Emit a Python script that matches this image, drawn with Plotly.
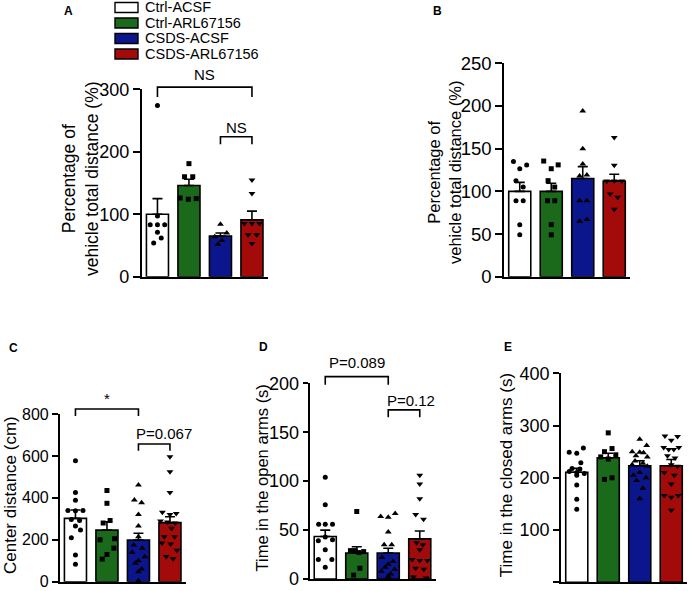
import plotly.graph_objects as go

W, H = 690, 591
FONT = "Liberation Sans, Arial, Helvetica, sans-serif"

groups = ["Ctrl-ACSF", "Ctrl-ARL67156", "CSDS-ACSF", "CSDS-ARL67156"]
colors = ["#ffffff", "#1b6a1b", "#0c168c", "#a30a0a"]
symbols = ["circle", "square", "triangle-up", "triangle-down"]

# ---------------- Panel A ----------------
A_mean = [100, 146, 65, 91]
A_sem = [25, 10, 5, 14]
A_pts = [[274, 97, 83, 83, 83, 71, 62, 54],
         [181, 160, 160, 126, 124, 125],
         [84, 70, 64, 58, 52],
         [155, 133, 85, 85, 85, 67, 67, 53]]
A_off = [[0, 0, -0.23, 0, 0.23, 0, 0.12, -0.12],
         [0, -0.14, 0.12, -0.28, -0.02, 0.23],
         [0, 0.2, -0.18, 0.05, -0.08],
         [0, 0, -0.24, 0, 0.24, -0.12, 0.15, 0]]

# ---------------- Panel B ----------------
B_mean = [100, 100, 115, 112]
B_sem = [10.5, 9.5, 14, 8]
B_pts = [[135, 126.5, 131, 112.5, 105, 89, 89, 61, 49],
         [135.5, 126.5, 131, 112.5, 105, 89, 89, 61, 49],
         [194, 150, 132, 118, 119, 89, 89, 65, 67],
         [163, 130.5, 112, 112, 112, 97, 93, 79]]
B_off = [[-0.2, 0, 0.22, -0.12, 0.11, -0.12, 0.11, 0, 0],
         [-0.24, 0, 0.22, -0.1, 0.11, -0.12, 0.11, 0, 0],
         [0, 0, 0, -0.1, 0.13, -0.1, 0.13, -0.1, 0.13],
         [0, 0, -0.24, 0, 0.24, -0.13, 0.11, 0]]

# ---------------- Panel C ----------------
C_mean = [302, 246, 199, 282]
C_sem = [40, 40, 32, 28]
C_pts = [[577, 426, 388, 340, 338, 340, 297, 292, 266, 247, 210, 127, 83],
         [435, 374, 292, 280, 205, 200, 160, 130, 108],
         [461, 390, 377, 321, 266, 215, 175, 160, 140, 119, 100, 88, 60, 48, 5],
         [596, 525, 425, 331, 325, 320, 290, 285, 280, 255, 215, 215, 185, 180, 150, 120, 110]]
C_off = [[0, 0, 0, -0.24, 0, 0.24, -0.13, 0.13, 0, 0.16, -0.13, 0, 0],
         [0, 0, 0.1, -0.12, 0.24, -0.22, 0.22, 0.0, -0.15],
         [0, -0.13, 0.1, 0, 0, 0, -0.15, 0.12, -0.2, 0.2, 0, -0.1, 0.1, 0, 0],
         [0, 0, 0, -0.24, 0.2, 0.0, -0.3, -0.08, 0.17, 0.05, -0.18, 0.15, -0.25, 0.02, 0.22, -0.12, 0.1]]

# ---------------- Panel D ----------------
D_mean = [43.5, 26.5, 26.5, 41]
D_sem = [6.5, 6.5, 5, 8]
D_pts = [[104, 76, 56, 56, 56, 43, 39, 40, 30, 20, 20, 12],
         [69, 29, 29, 28, 27, 11, 4],
         [64, 63, 67, 48, 35, 35, 22, 18, 15, 12, 10, 8, 5, 3, 1],
         [106, 97, 82, 66, 61, 37, 35, 30, 20, 19, 19, 11, 10, 2, 1]]
D_off = [[0, 0, -0.21, 0, 0.23, 0, -0.22, 0.23, 0, -0.22, 0.21, 0],
         [0, -0.2, -0.05, 0.22, 0.07, 0.1, -0.1],
         [-0.24, 0, 0.22, 0, -0.13, 0.11, -0.2, 0.15, 0, -0.1, 0.2, -0.22, 0.08, 0.0, 0],
         [0, 0, 0, -0.13, 0.12, -0.1, 0.1, 0, -0.24, 0, 0.24, -0.13, 0.13, -0.2, 0.2]]

# ---------------- Panel E ----------------
E_mean = [210.5, 238.5, 223, 223]
E_sem = [7.5, 8.5, 9.5, 12]
E_pts = [[257, 249, 247, 229, 218, 217, 212, 210, 208, 205, 186, 159, 140],
         [286, 256, 250, 244, 240, 236, 200, 197],
         [274, 262, 250, 249, 248, 242, 240, 232, 228, 225, 222, 210, 205, 200, 195, 180, 160],
         [280, 272, 279, 258, 254, 254, 258, 242, 238, 225, 222, 210, 205, 188, 166, 163, 166, 138]]
E_off = [[0.21, -0.24, 0, 0.13, -0.15, 0.1, -0.24, 0, 0.24, 0, 0, 0, 0],
         [0, 0.12, -0.12, 0.24, -0.24, 0.0, 0.12, -0.12],
         [0, 0.22, -0.24, 0, 0.12, -0.12, 0.24, -0.15, 0.1, -0.24, 0.24, 0, -0.2, 0.2, -0.1, 0.1, 0],
         [-0.2, 0, 0.2, -0.24, -0.08, 0.08, 0.24, -0.12, 0.12, 0, 0.2, -0.22, 0.1, 0, -0.22, 0, 0.22, 0]]

y_titles = {
    "A": "Percentage of<br>vehicle total distance (%)",
    "B": "Percentage of<br>vehicle total distance (%)",
    "C": "Center distance (cm)",
    "D": "Time in the open arms (s)",
    "E": "Time in the closed arms (s)",
}
y_max = {"A": 300, "B": 250, "C": 800, "D": 200, "E": 400}
y_dtick = {"A": 100, "B": 50, "C": 200, "D": 50, "E": 100}

# layout geometry (pixels): x0, x1, ytop, ybottom
geom = {
    "A": (141.7, 267.7, 89.3, 276.7),
    "B": (504.0, 630.0, 63.3, 276.7),
    "C": (59.7, 185.7, 414.0, 581.7),
    "D": (309.5, 435.5, 383.3, 579.0),
    "E": (561.0, 687.0, 373.3, 582.3),
}
tick_font = {"A": 18, "B": 18.5, "C": 16, "D": 18, "E": 18}
tick_len = {"A": 7, "B": 7, "C": 6, "D": 5, "E": 6}
title_font = {"A": 17.5, "B": 16.5, "C": 17, "D": 16.5, "E": 17}
title_pos = {"A": (80, 179), "B": (444, 172), "C": (10, 495), "D": (261.5, 478), "E": (506.7, 475.5)}
letter_pos = {"A": (68, 11), "B": (437, 11), "C": (14, 348), "D": (263, 347), "E": (508, 347)}

# significance brackets: (panel, i, j, y_line, y_end, label, label_x, label_y)
brackets = [
    ("A", 0, 3, 303.5, 287.6, "NS", 1.5, 324),
    ("A", 2, 3, 224, 212, "NS", 2.5, 239),
    ("C", 0, 2, 824, 790, "*", 1.0, 872),
    ("C", 2, 3, 657, 625, "P=0.067", 2.81, 705),
    ("D", 0, 2, 206.8, 198.4, "P=0.089", 1.0, 221.6),
    ("D", 2, 3, 172.8, 165.3, "P=0.12", 2.72, 182.3),
]

data = {
    "A": (A_mean, A_sem, A_pts, A_off),
    "B": (B_mean, B_sem, B_pts, B_off),
    "C": (C_mean, C_sem, C_pts, C_off),
    "D": (D_mean, D_sem, D_pts, D_off),
    "E": (E_mean, E_sem, E_pts, E_off),
}

XR = (-0.5, 3.5)


def px_x(p, xv):
    x0, x1, _, _ = geom[p]
    return x0 + (xv - XR[0]) / (XR[1] - XR[0]) * (x1 - x0)


def px_y(p, yv):
    _, _, yt, yb = geom[p]
    return yb - yv / y_max[p] * (yb - yt)


fig = go.Figure()
layout = dict(width=W, height=H, margin=dict(l=0, r=0, t=0, b=0),
              paper_bgcolor="white", plot_bgcolor="rgba(0,0,0,0)",
              showlegend=False, font=dict(family=FONT, color="black"))
shapes, annots = [], []

for k, p in enumerate(["A", "B", "C", "D", "E"]):
    idx = "" if k == 0 else str(k + 1)
    xa, ya = "x" + idx, "y" + idx
    mean, sem, pts, off = data[p]
    x0, x1, yt, yb = geom[p]
    fig.add_trace(go.Bar(
        x=[0, 1, 2, 3], y=mean, width=0.7, xaxis=xa, yaxis=ya,
        marker=dict(color=colors, line=dict(color="black", width=1.6)),
        error_y=dict(type="data", symmetric=False, array=sem, arrayminus=[0] * 4,
                     color="black", thickness=1.6, width=5),
        hoverinfo="skip"))
    for g in range(4):
        fig.add_trace(go.Scatter(
            x=[g + o for o in off[g]], y=pts[g], mode="markers", xaxis=xa, yaxis=ya,
            cliponaxis=False,
            marker=dict(symbol=symbols[g], color="black",
                        size=6 if g >= 2 else 5, line=dict(width=0)),
            hoverinfo="skip"))
    layout["xaxis" + idx] = dict(domain=[x0 / W, x1 / W], range=list(XR), anchor=ya,
                                 showline=True, linecolor="black", linewidth=1.6,
                                 ticks="", showticklabels=False, showgrid=False,
                                 zeroline=False, fixedrange=True)
    layout["yaxis" + idx] = dict(domain=[1 - yb / H, 1 - yt / H], range=[0, y_max[p]],
                                 anchor=xa, showline=True, linecolor="black", linewidth=1.6,
                                 ticks="outside", ticklen=tick_len[p], tickwidth=1.6,
                                 tickcolor="black",
                                 dtick=y_dtick[p], tick0=0, showgrid=False, zeroline=False,
                                 tickfont=dict(size=tick_font[p], family=FONT, color="black"),
                                 automargin=False, fixedrange=True)
    tx, ty = title_pos[p]
    annots.append(dict(x=tx / W, y=1 - ty / H, xref="paper", yref="paper",
                       text=y_titles[p], textangle=-90, showarrow=False,
                       xanchor="center", yanchor="middle",
                       font=dict(size=title_font[p], family=FONT, color="black")))
    lx, ly = letter_pos[p]
    annots.append(dict(x=lx / W, y=1 - ly / H, xref="paper", yref="paper",
                       text="<b>%s</b>" % p, showarrow=False,
                       xanchor="center", yanchor="middle",
                       font=dict(size=12, family=FONT, color="black")))

for (p, i, j, yl, ye, lab, lxv, lyv) in brackets:
    xa_, xb_ = px_x(p, i), px_x(p, j)
    yl_, ye_ = px_y(p, yl), px_y(p, ye)
    path = "M %f,%f L %f,%f L %f,%f L %f,%f" % (
        xa_ / W, 1 - ye_ / H, xa_ / W, 1 - yl_ / H, xb_ / W, 1 - yl_ / H, xb_ / W, 1 - ye_ / H)
    shapes.append(dict(type="path", xref="paper", yref="paper", path=path,
                       line=dict(color="black", width=1.6)))
    annots.append(dict(x=px_x(p, lxv) / W, y=1 - px_y(p, lyv) / H, xref="paper", yref="paper",
                       text=lab, showarrow=False, xanchor="center", yanchor="middle",
                       font=dict(size=15, family=FONT, color="black")))

# legend (boxes + labels)
leg_x0, leg_x1, leg_h = 115, 138, 10
leg_rows = [7.5, 23, 38.5, 54]
for g in range(4):
    yc = leg_rows[g]
    shapes.append(dict(type="rect", xref="paper", yref="paper",
                       x0=leg_x0 / W, x1=leg_x1 / W,
                       y0=1 - (yc + leg_h / 2) / H, y1=1 - (yc - leg_h / 2) / H,
                       fillcolor=colors[g], line=dict(color="black", width=1.4)))
    annots.append(dict(x=143 / W, y=1 - yc / H, xref="paper", yref="paper",
                       text=groups[g], showarrow=False, xanchor="left", yanchor="middle",
                       font=dict(size=14.5, family=FONT, color="black")))

layout["shapes"] = shapes
layout["annotations"] = annots
fig.update_layout(**layout)
fig.write_html("out.html", config={"displayModeBar": False},
               post_script="document.body.style.margin='0px';"
                           "document.body.style.overflow='hidden';")
